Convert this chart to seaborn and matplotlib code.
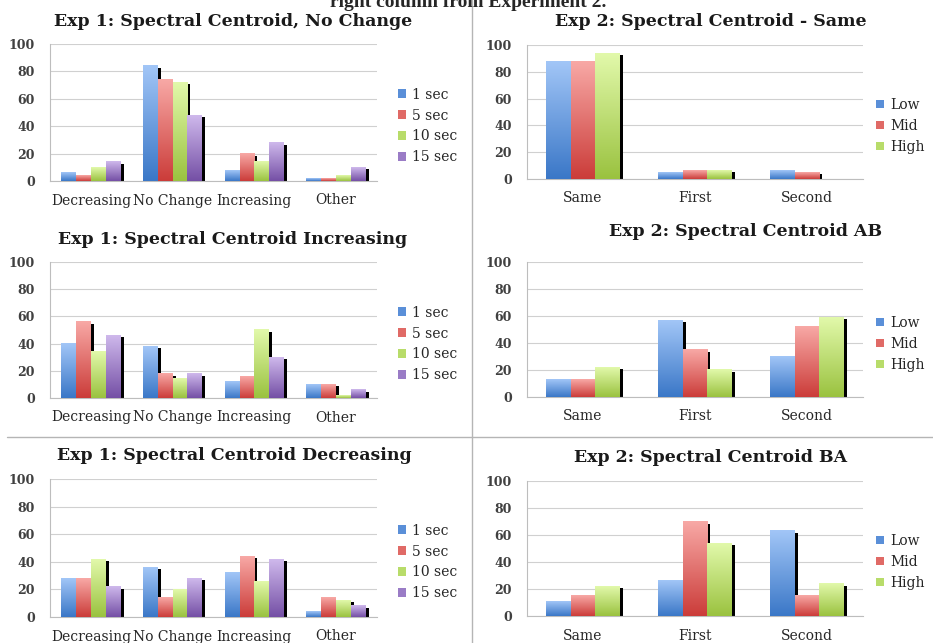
import numpy as np
import pandas as pd
import matplotlib
matplotlib.use("Agg")
import matplotlib.pyplot as plt
import seaborn as sns
from matplotlib.patches import Rectangle, Patch
from matplotlib.lines import Line2D
from matplotlib.colors import LinearSegmentedColormap

# ---- data ----
exp1_categories = ["Decreasing", "No Change", "Increasing", "Other"]
exp1_series = ["1 sec", "5 sec", "10 sec", "15 sec"]
exp2_categories = ["Same", "First", "Second"]
exp2_series = ["Low", "Mid", "High"]

# one list per series, values in category order
exp1_no_change = {
    "1 sec": [6, 84, 8, 2],
    "5 sec": [4, 74, 20, 2],
    "10 sec": [10, 72, 14, 4],
    "15 sec": [14, 48, 28, 10],
}
exp1_increasing = {
    "1 sec": [40, 38, 12, 10],
    "5 sec": [56, 18, 16, 10],
    "10 sec": [34, 14, 50, 2],
    "15 sec": [46, 18, 30, 6],
}
exp1_decreasing = {
    "1 sec": [28, 36, 32, 4],
    "5 sec": [28, 14, 44, 14],
    "10 sec": [42, 20, 26, 12],
    "15 sec": [22, 28, 42, 8],
}
exp2_same = {
    "Low": [88, 5, 6.5],
    "Mid": [88, 6.5, 5],
    "High": [94, 6.5, 0],
}
exp2_ab = {
    "Low": [13, 57, 30],
    "Mid": [13, 35, 52],
    "High": [22, 20, 59],
}
exp2_ba = {
    "Low": [11, 26, 63],
    "Mid": [15, 70, 15],
    "High": [22, 54, 24],
}

# gradient colours (top, bottom) and flat legend colour per series
gradients = {
    "1 sec": ("#A2C6F7", "#3A77C7"), "Low": ("#A2C6F7", "#3A77C7"),
    "5 sec": ("#F8A9A6", "#CB3C39"), "Mid": ("#F8A9A6", "#CB3C39"),
    "10 sec": ("#E2F9AB", "#9AC23F"), "High": ("#E2F9AB", "#9AC23F"),
    "15 sec": ("#CFB9EC", "#744FA5"),
}
legend_colors = {
    "1 sec": "#5A8FD8", "Low": "#5A8FD8",
    "5 sec": "#E06A66", "Mid": "#E06A66",
    "10 sec": "#B8DC6A", "High": "#B8DC6A",
    "15 sec": "#9A7CC6",
}

W, H = 933, 643
sns.set_style("white")
plt.rcParams["font.family"] = ["DejaVu Serif", "DejaVu Sans"]

fig = plt.figure(figsize=(W / 100, H / 100), dpi=100)
grad = np.linspace(0, 1, 256).reshape(-1, 1)


def draw_panel(box, title, title_xy, cats, series, values, legend_y, legend_x):
    x0, x1, ytop, ybot = box
    ax = fig.add_axes([x0 / W, 1 - ybot / H, (x1 - x0) / W, (ybot - ytop) / H])
    df = pd.DataFrame(
        [(c, s, v) for s in series for c, v in zip(cats, values[s])],
        columns=["category", "series", "value"],
    )
    n = len(cats)
    sns.barplot(data=df, x="category", y="value", hue="series", order=cats,
                hue_order=series, palette=[legend_colors[s] for s in series],
                width=len(series) / (len(series) + 1.5), gap=0, legend=False,
                linewidth=0, zorder=3, ax=ax)

    # excel-like gradient fill and black drop shadow on the right
    px_x = (x1 - x0) / n
    px_y = (ybot - ytop) / 100
    sw, sd = 3 / px_x, 2 / px_y
    for container, s in zip(ax.containers, series):
        top, bot = gradients[s]
        cmap = LinearSegmentedColormap.from_list(s, [bot, top])
        for bar in container:
            x, w, h = bar.get_x(), bar.get_width(), bar.get_height()
            if h <= 0:
                continue
            ax.add_patch(Rectangle((x + w, 0), sw, max(h - sd, 0),
                                   color="black", lw=0, zorder=2.5))
            ax.imshow(grad, cmap=cmap, extent=[x, x + w, 0, h], aspect="auto",
                      origin="lower", zorder=3.5, clip_path=bar)

    ax.set_xlim(-0.5, n - 0.5)
    ax.set_ylim(0, 100)
    ax.set_xlabel("")
    ax.set_ylabel("")
    ax.set_yticks(range(0, 101, 20))
    ax.yaxis.grid(True, color="#D0D0D0", lw=0.8, zorder=0)
    ax.set_xticks(range(n))
    ax.set_xticklabels(cats)
    ax.set_xticks(np.arange(n + 1) - 0.5, minor=True)
    ax.tick_params(axis="x", which="major", length=0, pad=9, labelsize=10,
                   labelcolor="#262626")
    ax.tick_params(axis="x", which="minor", length=4, color="#BDBDBD", width=0.8)
    ax.tick_params(axis="y", length=4, color="#BDBDBD", width=0.8, pad=7,
                   labelsize=9, labelcolor="#404040")
    for lab in ax.get_yticklabels():
        lab.set_fontweight("bold")
    for side in ["top", "right"]:
        ax.spines[side].set_visible(False)
    for side in ["left", "bottom"]:
        ax.spines[side].set_color("#BDBDBD")
        ax.spines[side].set_linewidth(0.8)

    handles = [Patch(facecolor=legend_colors[s], edgecolor="none") for s in series]
    ax.legend(handles, series, loc="center left",
              bbox_to_anchor=(legend_x / W, 1 - legend_y / H),
              bbox_transform=fig.transFigure, frameon=False,
              handlelength=0.55, handleheight=0.55, handletextpad=0.45,
              labelspacing=0.5, borderpad=0, borderaxespad=0,
              prop={"family": "DejaVu Serif", "size": 10})

    fig.text(title_xy[0] / W, 1 - title_xy[1] / H, title, ha="center", va="center",
             fontsize=12.5, fontweight="bold", color="#1A1A1A")
    return ax


draw_panel((50, 377, 44, 181), "Exp 1: Spectral Centroid, No Change", (233, 21),
           exp1_categories, exp1_series, exp1_no_change, 126, 398)
draw_panel((50, 377, 262, 398), "Exp 1: Spectral Centroid Increasing", (233, 239),
           exp1_categories, exp1_series, exp1_increasing, 344, 398)
draw_panel((50, 377, 479, 617), "Exp 1: Spectral Centroid Decreasing", (234, 456),
           exp1_categories, exp1_series, exp1_decreasing, 562, 398)
draw_panel((527, 863, 45, 179), "Exp 2: Spectral Centroid - Same", (711, 22),
           exp2_categories, exp2_series, exp2_same, 126, 876)
draw_panel((527, 863, 262, 397), "Exp 2: Spectral Centroid AB", (746, 232),
           exp2_categories, exp2_series, exp2_ab, 344, 876)
draw_panel((527, 863, 481, 616), "Exp 2: Spectral Centroid BA", (711, 457),
           exp2_categories, exp2_series, exp2_ba, 562, 876)

# page separators and the cropped caption line above
fig.add_artist(Line2D([472 / W, 472 / W], [0, 1], transform=fig.transFigure,
                      color="#B5B5B5", lw=1))
fig.add_artist(Line2D([7 / W, 1], [1 - 437 / H, 1 - 437 / H], transform=fig.transFigure,
                      color="#B5B5B5", lw=1))
fig.text(468 / W, 1 - 7 / H, "right column from Experiment 2.", ha="center",
         va="baseline", fontsize=14, fontweight="bold", family="Liberation Serif")

fig.savefig("out.png", dpi=100)
